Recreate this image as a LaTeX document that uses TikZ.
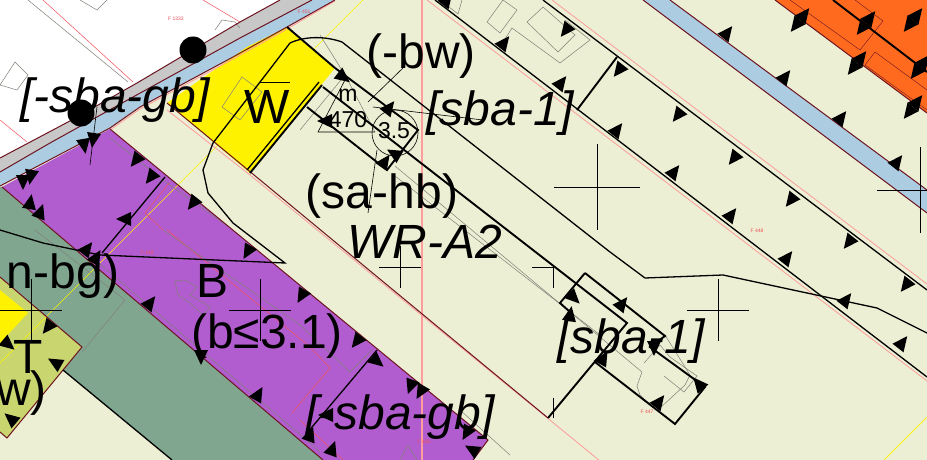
\documentclass[tikz,border=0pt]{standalone}
\usepackage{fontspec}
\setmainfont{Liberation Sans}
\definecolor{plancream}{HTML}{ECEFD3}
\definecolor{planpurple}{HTML}{B25DCF}
\definecolor{plangreen}{HTML}{80A690}
\definecolor{planolive}{HTML}{C9D56F}
\definecolor{planblue}{HTML}{ACCCE2}
\definecolor{planorange}{HTML}{FF6A1F}
\definecolor{planroad}{HTML}{C8C8C8}
\definecolor{planedge}{HTML}{6E1420}
\definecolor{plansalmon}{HTML}{FF9C9C}
\definecolor{planred}{HTML}{F0505A}
\definecolor{planhouse}{HTML}{808078}
\tikzset{
  bigtext/.style={anchor=base,inner sep=0pt,font=\fontsize{48}{48}\selectfont},
  bigslant/.style={bigtext,font=\fontsize{48}{48}\selectfont\itshape},
  smalltext/.style={anchor=base,inner sep=0pt,font=\fontsize{23}{23}\selectfont},
  lotnumber/.style={anchor=center,inner sep=0pt,text=planred,font=\fontsize{5}{6}\selectfont},
  boundary/.style={line width=1pt,planedge},
  blackline/.style={line width=1.3pt,black},
  fatline/.style={line width=1.9pt,black},
  hairline/.style={line width=0.6pt,black},
  house/.style={line width=0.5pt,planhouse},
  parcel/.style={line width=0.5pt,planred}
}
\newcommand{\hatch}[3]{\fill[shift={(#1,#2)},rotate=#3] (-7,0) -- (0,-15) -- (7,0) -- cycle;}
\begin{document}
\begin{tikzpicture}[x=1pt,y=-1pt]
\path[use as bounding box,clip] (0,0) rectangle (927,460);
\fill[plancream] (0,0) rectangle (927,460);
% areas
\fill[white] (0,0) -- (285,0) -- (0,160) -- cycle;
\fill[planroad] (0,158) -- (68,122) -- (137,83) -- (240,22) -- (280,0) -- (312,0) -- (240,38) -- (133,97) -- (50,143) -- (0,172) -- cycle;
\fill[planblue] (0,172) -- (50,143) -- (133,97) -- (240,38) -- (312,0) -- (335,0) -- (287,27) -- (233,57) -- (140,107) -- (110,128) -- (0,186) -- cycle;
\fill[yellow] (287,27) -- (335,68) -- (250,173) -- (167,103) -- (247,47) -- cycle;
\fill[planpurple] (110,129) -- (488,440) -- (473,460) -- (323,460) -- (2,187) -- cycle;
\fill[plangreen] (0,187) -- (2,187) -- (323,460) -- (172,460) -- (63,370) -- (82,347) -- (0,277) -- cycle;
\fill[planolive] (0,277) -- (82,347) -- (7,438) -- (0,432) -- cycle;
\fill[yellow] (0,290) -- (28,313) -- (0,343) -- cycle;
\fill[planblue] (643,0) -- (670,0) -- (927,190) -- (927,213) -- cycle;
\fill[planorange] (775,0) -- (927,0) -- (927,113) -- cycle;
% parcel lines
\draw[yellow,line width=0.7pt] (363,0) -- (0,363);
\draw[yellow,line width=0.7pt] (927,417) -- (884,460);
\draw[plansalmon,line width=1.4pt] (422,0) -- (422,460);
\draw[plansalmon,line width=0.8pt] (427,0) -- (927,381);
\draw[plansalmon,line width=0.8pt] (552,0) -- (927,284);
\draw[plansalmon,line width=0.8pt] (167,110) -- (250,175) -- (600,461);
\draw[plansalmon,line width=0.8pt] (110,130) -- (140,109) -- (233,59) -- (287,29) -- (335,1);
\draw[parcel] (43,0) -- (133,82);
\draw[parcel] (0,120) -- (27,142);
\draw[parcel] (203,0) -- (240,22);
\draw[parcel] (167,230) -- (310,347) -- (330,368) -- (292,413);
\draw[parcel] (145,213) -- (170,182);
\draw[parcel] (145,213) -- (163,230);
\draw[parcel] (300,420) -- (343,460);
% houses
\draw[house] (28,0) -- (128,82);
\draw[house] (80,0) -- (97,10) -- (107,0);
\draw[house] (0,85) -- (15,62) -- (28,75) -- (17,90) -- cycle;
\draw[house] (215,30) -- (222,20) -- (235,22) -- (240,28);
\draw[house] (222,107) -- (242,77) -- (262,92) -- (240,120) -- cycle;
\draw[house] (487,22) -- (503,0) -- (517,10) -- (500,33) -- cycle;
\draw[house] (527,22) -- (543,7) -- (575,35) -- (558,52) -- cycle;
\draw[house] (500,47) -- (512,28) -- (560,63) -- (590,40) -- (565,20);
\draw[house] (440,0) -- (458,14) -- (462,0);
\draw[house] (395,166) -- (642,372);
\draw[house] (395,176) -- (600,335);
\draw[house] (320,35) -- (345,75) -- (375,132);
\draw[house] (345,75) -- (300,130);
\draw[house] (35,230) -- (125,300) -- (82,352);
\draw[house] (80,247) -- (310,443) -- (320,452);
\draw[house] (110,138) -- (163,180) -- (233,230);
\draw[house] (163,230) -- (250,290) -- (300,325) -- (350,372) -- (372,350);
\draw[house] (175,281) -- (185,280) -- (197,287) -- (190,295) -- (210,307) -- (203,315) -- (190,303) -- (178,295) -- cycle;
\draw[house] (460,410) -- (510,455);
\draw[house] (408,445) -- (400,460);
\draw[house] (408,445) -- (417,460);
\draw[house] (644,363) -- (660,345) -- (670,357) -- (697,376) -- (684,392) -- (664,376);
\draw[house] (642,372) -- (637,386) -- (640,395) -- (650,405);
\draw[house] (660,408) -- (685,385) -- (690,375) -- (665,335);
\draw[planedge,line width=0.4pt] (790,0) -- (860,50) -- (883,21) -- (855,0);
\draw[planedge,line width=0.4pt] (875,52) -- (865,65) -- (927,110);
\draw[planedge,line width=0.4pt] (875,52) -- (927,90);
% edges of areas
\draw[boundary] (0,158) -- (68,122) -- (137,83) -- (240,22) -- (280,0);
\draw[boundary] (0,172) -- (50,143) -- (133,97) -- (240,38) -- (312,0);
\draw[boundary] (0,186) -- (110,128) -- (140,107) -- (233,57) -- (287,27) -- (335,0);
\draw[boundary] (643,0) -- (927,213);
\draw[boundary] (670,0) -- (927,190);
\draw[boundary] (775,0) -- (927,113);
\draw[boundary] (110,129) -- (488,440) -- (473,460);
\draw[boundary] (2,187) -- (323,460);
\draw[boundary] (0,277) -- (82,347) -- (7,438) -- (0,432);
\draw[boundary] (167,103) -- (548,418);
\draw[blackline] (63,370) -- (172,460);
% black lines
\draw[blackline] (435,0) -- (927,377);
\draw[blackline] (543,0) -- (927,290);
\draw[fatline] (577,110) -- (617,57);
\draw[fatline] (833,0) -- (927,72);
\draw[blackline] (290,43) -- (267,73) -- (213,143) -- (203,170) -- (208,193) -- (233,223) -- (285,263) -- (100,255) -- (43,243) -- (0,230);
\draw[blackline] (290,43) .. controls (305,36) and (325,36) .. (342,42) -- (610,252) -- (645,278) -- (723,275) -- (877,308) -- (927,333);
\draw[fatline] (287,27) -- (335,68);
\draw[fatline] (250,173) -- (322,85);
\draw[blackline] (247,170) -- (319,82);
\draw[fatline] (335,68) -- (418,130) -- (387,170) -- (307,107);
\draw[fatline] (323,87) -- (627,323) -- (548,418);
\draw[fatline] (585,273) -- (665,336) -- (650,347) -- (705,387) -- (675,424) -- (595,362);
\draw[fatline] (585,273) -- (560,303) -- (570,312);
\draw[blackline] (165,177) -- (102,253);
\draw[blackline] (377,350) -- (307,433);
% thin marks
\draw[hairline] (97,107) -- (90,165);
\draw[hairline] (368,102) -- (403,68);
\draw[hairline] (373,107) -- (483,120);
\draw[hairline] (377,150) -- (368,213);
\draw[hairline] (345,80) -- (318,132) -- (375,132);
\draw[hairline] (395,133) circle (23);
\draw[hairline] (260,82) -- (290,82);
\foreach \cx/\cy/\arm in {597/187/43,718/310/31,400/267/21,260/310/31,31/310/31,920/190/43}
  \draw[blackline,line width=0.9pt] (\cx-\arm,\cy) -- (\cx+\arm,\cy) (\cx,\cy-\arm) -- (\cx,\cy+\arm);
\draw[blackline,line width=0.9pt] (532,267) -- (553,267) -- (553,288);
\draw[blackline,line width=0.9pt] (553,398) -- (553,418);
% ticks
\foreach \tx/\ty in {723/38,781/82,837/123,893/167,613/135,670/177,727/220,783/263,842/305,898/348,500/48,557/88,443/5,800/20,857/63,913/107,866/23,920/67,913/20}
  {\hatch{\tx}{\ty}{-38}}
\foreach \tx/\ty in {623/65,682/110,738/153,795/195,853/237,910/280,570/25,800/20,857/63,913/107,866/23,920/67,913/20}
  {\hatch{\tx}{\ty}{142}}
\foreach \tx/\ty/\tr in {338/73/-128,385/113/-38,332/121/90,400/157/60,381/167/-35,
  569/293/-135,618/309/-38,569/321/-10,654/341/180,600/364/-30,655/407/-38,703/389/40,
  83/139/190,94/133/172,140/155/142,155/172/142,197/198/142,131/219/90,23/175/180,32/170/170,29/209/-10,38/218/-20,
  83/254/-38,93/263/-30,146/308/-38,201/350/180,255/400/-30,251/246/150,305/290/150,52/322/142,61/366/60,16/423/50,3/340/-130,
  361/336/142,372/357/-130,413/380/160,424/386/150,333/415/90,308/441/-20,330/455/-20,470/427/150,478/453/60}
  {\hatch{\tx}{\ty}{\tr}}
% labels
\node[bigtext] (bw) at (421,69) {(-bw)};
\node[bigtext] (sahb) at (382,208) {(sa-hb)};
\node[bigslant] (wra) at (425,258) {WR-A2};
\node[bigslant] (sbaupper) at (500,125) {[sba-1]};
\node[bigslant] (sbalower) at (631,353) {[sba-1]};
\node[bigslant] (sbagbleft) at (115,112) {[-sba-gb]};
\node[bigslant] (sbagbright) at (400,429) {[-sba-gb]};
\node[bigtext] (letterw) at (267,123) {W};
\node[bigtext] (letterb) at (213,297) {B};
\node[bigtext] (heightb) at (267,348) {(b≤3.1)};
\node[bigtext] (nbg) at (63,288) {n-bg)};
\node[bigtext] (lettert) at (28,373) {T};
\node[bigtext,anchor=base east] (bwclipped) at (47,405) {w)};
\node[smalltext] (letterm) at (348,102) {m};
\node[smalltext] (area) at (348,128) {470};
\node[smalltext] (dotheight) at (394,138) {3.5};
\node[lotnumber] (lot1332) at (176,19) {F 1332};
\node[lotnumber] (lot451) at (304,12) {F 451};
\node[lotnumber] (lot448) at (757,231) {F 448};
\node[lotnumber] (lot447) at (647,412) {F 447};
\node[lotnumber] (lot449) at (147,253) {F 449};
\node[lotnumber] (lot450) at (424,442) {F 450};
% poles
\fill (193,50) circle (13.5);
\fill (81,113) circle (13.5);
\end{tikzpicture}
\end{document}
